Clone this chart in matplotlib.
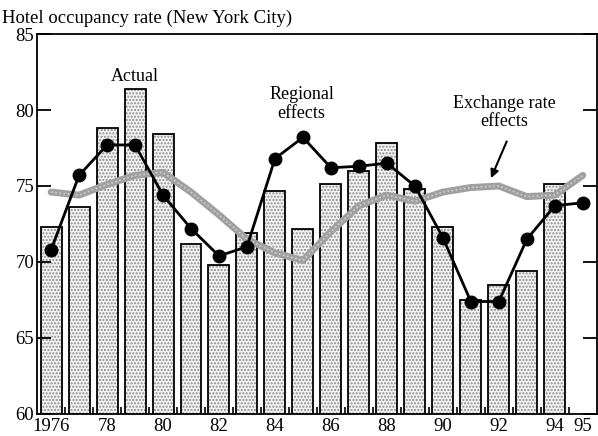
import numpy as np
import matplotlib.pyplot as plt

plt.rcParams['font.family'] = ['Liberation Serif', 'DejaVu Serif']

years = np.arange(1976, 1996)
# actual occupancy (bars), no bar for 1995
actual = [72.3, 73.6, 78.8, 81.4, 78.4, 71.2, 69.8, 71.9, 74.7, 72.2,
          75.1, 76.0, 77.8, 74.8, 72.3, 67.5, 68.5, 69.4, 75.1, np.nan]
regional = [70.8, 75.7, 77.7, 77.7, 74.4, 72.2, 70.4, 71.0, 76.8, 78.2,
            76.2, 76.3, 76.5, 75.0, 71.6, 67.4, 67.4, 71.5, 73.7, 73.9]
exchange = [74.6, 74.4, 75.1, 75.7, 75.9, 74.6, 73.1, 71.5, 70.6, 70.1,
            72.0, 73.7, 74.4, 74.0, 74.6, 74.9, 75.0, 74.3, 74.4, 75.7]
xlabels = ['1976', '78', '80', '82', '84', '86', '88', '90', '92', '94', '95']
xlabel_years = [1976, 1978, 1980, 1982, 1984, 1986, 1988, 1990, 1992, 1994, 1995]

fig = plt.figure(figsize=(5.98, 4.36), dpi=100)
ax = fig.add_axes([0.062, 0.0505, 0.936, 0.8715])

# stippled bars: dotted fill layer then black outline
ax.bar(years, actual, width=0.75, bottom=0, color='#f2f2f2', hatch='.....',
       edgecolor='#8c8c8c', linewidth=0, zorder=1)
ax.bar(years, actual, width=0.75, bottom=0, fill=False, edgecolor='black',
       linewidth=1.3, zorder=2)

ax.plot(years, exchange, color='#a0a0a0', lw=5, zorder=3, solid_capstyle='round')
ax.plot(years, exchange, color='#d0d0d0', lw=1.2, ls=(0, (1, 1.5)), zorder=3)
ax.plot(years, regional, color='black', lw=2, marker='o', markersize=9, zorder=4)

ax.set_xlim(1975.5, 1995.5)
ax.set_ylim(60, 85)
ax.set_yticks([60, 65, 70, 75, 80, 85])
ax.set_xticks(xlabel_years)
ax.set_xticklabels(xlabels)
ax.set_xticks(np.arange(1976.5, 1995, 1.0), minor=True)
ax.tick_params(axis='x', which='major', length=0, labelsize=13.5, pad=3)
ax.tick_params(axis='x', which='minor', direction='in', length=5, width=1.2)
ax.tick_params(axis='y', direction='in', length=10, width=1.3, labelsize=13.5,
               right=True, pad=2)
for s in ax.spines.values():
    s.set_linewidth(1.3)

fig.text(0.004, 0.958, 'Hotel occupancy rate (New York City)', fontsize=13.5, va='center')

ax.text(1979.0, 82.2, 'Actual', fontsize=13, ha='center', va='center')
ax.text(1984.95, 80.4, 'Regional\neffects', fontsize=13, ha='center', va='center',
        linespacing=1.1)
ax.text(1992.2, 79.85, 'Exchange rate\neffects', fontsize=13, ha='center', va='center',
        linespacing=1.1)
ax.annotate('', xy=(1991.68, 75.35), xytext=(1992.32, 78.1),
            arrowprops=dict(arrowstyle='-|>', color='black', lw=1.5, mutation_scale=12))

fig.savefig('out.png', dpi=100)
